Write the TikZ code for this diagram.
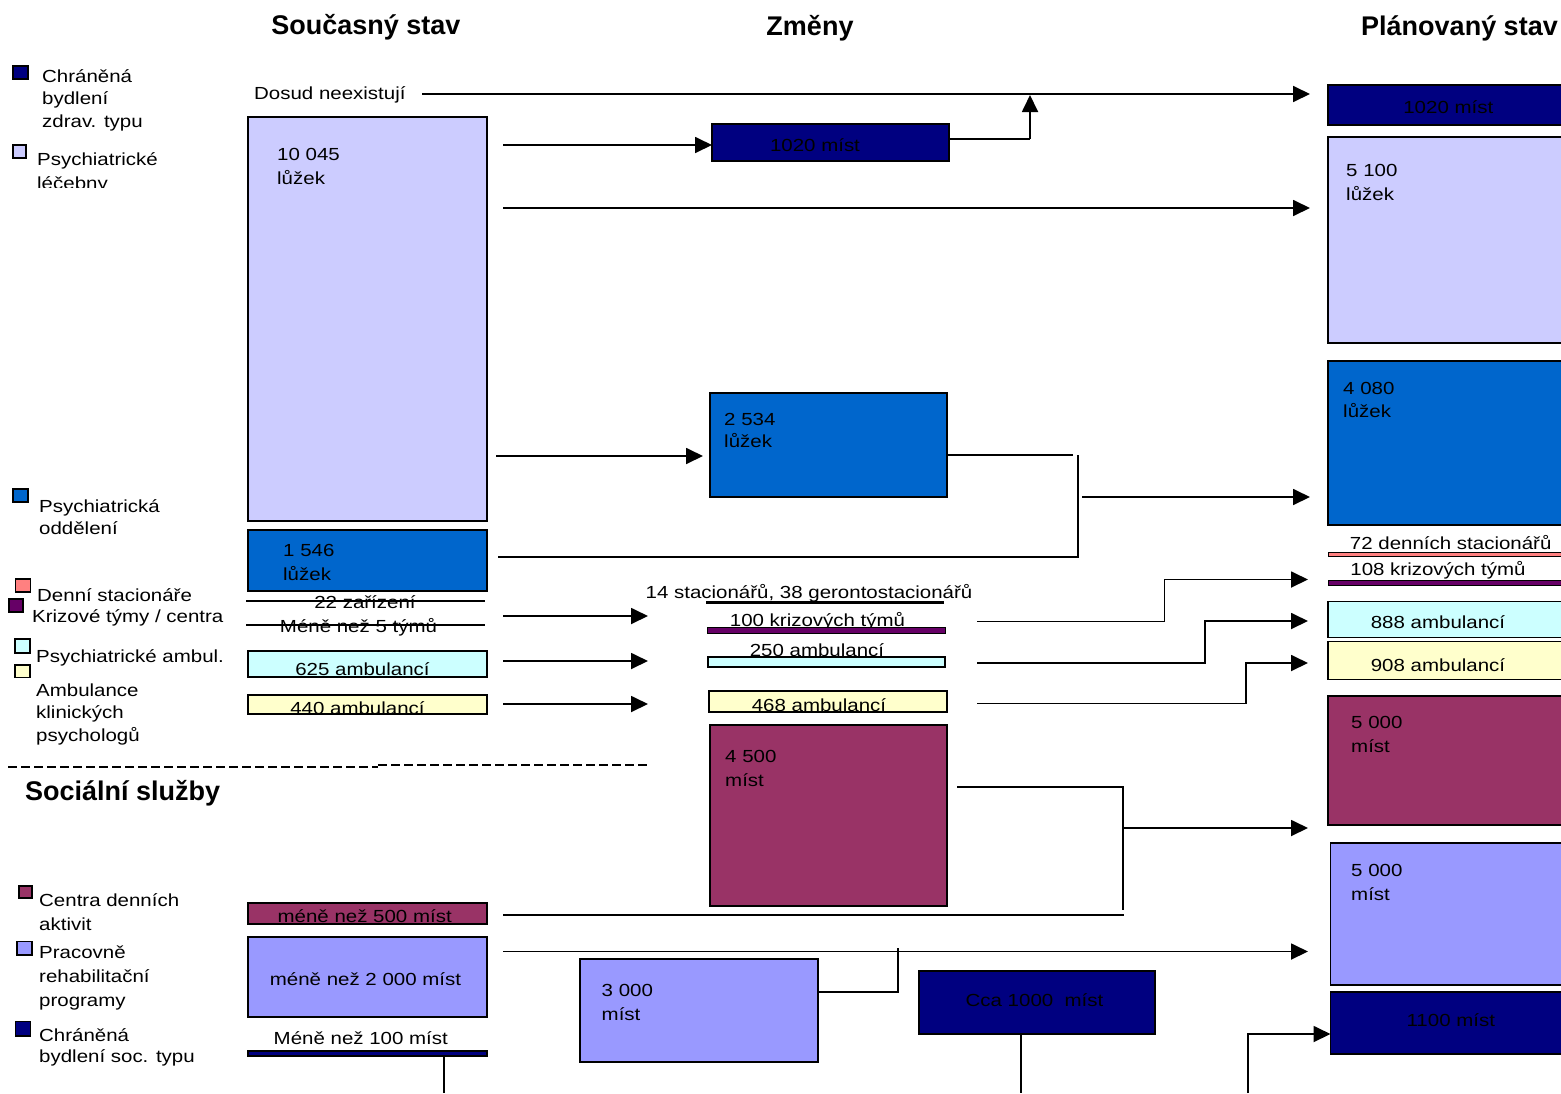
\documentclass[tikz,border=0pt]{standalone}
\usepackage{fontspec}
\setmainfont{Liberation Sans}[FakeStretch=1.17]
\newfontfamily\hdfont{Liberation Sans}
\usetikzlibrary{arrows.meta}
\definecolor{navy}{HTML}{000080}
\definecolor{lav}{HTML}{CCCCFF}
\definecolor{blu}{HTML}{0066CC}
\definecolor{salm}{HTML}{FF8080}
\definecolor{purp}{HTML}{660066}
\definecolor{cyn}{HTML}{CCFFFF}
\definecolor{yel}{HTML}{FFFFCC}
\definecolor{maro}{HTML}{993366}
\definecolor{peri}{HTML}{9999FF}
\tikzset{
  bx/.style={draw=black, line width=1.4pt, inner sep=0pt, outer sep=0pt, anchor=north west},
  sq/.style={draw=black, line width=1.2pt, inner sep=0pt, outer sep=0pt, anchor=north west},
  tx/.style={inner sep=0pt, anchor=base west, font=\fontsize{17.5}{21}\selectfont},
  tc/.style={inner sep=0pt, anchor=base, font=\fontsize{17.5}{21}\selectfont},
  hd/.style={inner sep=0pt, font=\hdfont\bfseries\fontsize{27}{30}\selectfont},
  ln/.style={line width=1.8pt},
  thin ln/.style={line width=1.4pt},
  ar/.style={line width=1.8pt, -{Triangle[length=17pt,width=16pt]}},
}
\newcommand\tl[4]{\node[tx] (#1) at (#2,#3) {#4};}
\newcommand\tcn[4]{\node[tc] (#1) at (#2,#3) {#4};}
\begin{document}
\begin{tikzpicture}[x=1pt,y=-1pt]
\useasboundingbox (0,0) rectangle (1561,1093);
\clip (0,0) rectangle (1561,1093);
\fill[white] (0,0) rectangle (1561,1093);

% headers
\node[hd, anchor=base] (h1) at (366,34) {Současný stav};
\node[hd, anchor=base] (h2) at (810,35) {Změny};
\node[hd, anchor=base west] (h3) at (1361,35) {Plánovaný stav};
\node[hd, anchor=base west] (h4) at (25,800) {Sociální služby};

% legend squares
\node[sq, fill=navy, minimum width=15pt, minimum height=13pt] (s1) at (13,66) {};
\node[sq, fill=lav, minimum width=13pt, minimum height=13pt] (s2) at (13,145) {};
\node[sq, fill=blu, minimum width=15pt, minimum height=13pt] (s3) at (13,489) {};
\node[sq, fill=salm, minimum width=15pt, minimum height=13pt] (s4) at (15.5,579) {};
\node[sq, fill=purp, minimum width=14pt, minimum height=13pt] (s5) at (9,599) {};
\node[sq, fill=cyn, minimum width=15pt, minimum height=14pt] (s6) at (15,639) {};
\node[sq, fill=yel, minimum width=15pt, minimum height=12.5pt] (s7) at (15,665) {};
\node[sq, fill=maro, minimum width=13pt, minimum height=12pt] (s8) at (19,886) {};
\node[sq, fill=peri, minimum width=15pt, minimum height=13.5pt] (s9) at (17,941.5) {};
\node[sq, fill=navy, minimum width=15pt, minimum height=14.5pt] (s10) at (15.5,1021.5) {};

% legend texts
\tl{g1a}{42}{82}{Chráněná}
\tl{g1b}{42}{104.5}{bydlení}
\tl{g1c}{42}{127}{zdrav. typu}
\tl{g2a}{37}{165}{Psychiatrické}
\begin{scope}
\clip (0,170) rectangle (240,187.5);
\tl{g2b}{37}{189}{léčebny}
\end{scope}
\tl{g3a}{39}{512}{Psychiatrická}
\tl{g3b}{39}{534}{oddělení}
\tl{g4}{37}{601.5}{Denní stacionáře}
\tl{g5}{32}{622}{Krizové týmy / centra}
\tl{g6}{36}{662.5}{Psychiatrické ambul.}
\tl{g7a}{36}{696.5}{Ambulance}
\tl{g7b}{36}{718.5}{klinických}
\tl{g7c}{36}{741}{psychologů}
\tl{g8a}{39}{906.5}{Centra denních}
\tl{g8b}{39}{930}{aktivit}
\tl{g9a}{39}{958}{Pracovně}
\tl{g9b}{39}{982.5}{rehabilitační}
\tl{g9c}{39}{1006.5}{programy}
\tl{g10a}{39}{1041.5}{Chráněná}
\tl{g10b}{39}{1062}{bydlení soc. typu}

% dashed separator
\coordinate (d1) at (8,767);
\coordinate (d2) at (378,767);
\coordinate (d3) at (378,765);
\coordinate (d4) at (650,765);
\draw[line width=1.3pt, dash pattern=on 9pt off 4pt] (d1) -- (d2);
\draw[line width=1.3pt, dash pattern=on 9pt off 4pt] (d3) -- (d4);

% left column
\tl{dosud}{254}{99}{Dosud neexistují}
\node[bx, fill=lav, minimum width=239pt, minimum height=404pt] (L1) at (248,117) {};
\tl{L1a}{277}{160}{10 045}
\tl{L1b}{277}{184}{lůžek}
\node[bx, fill=blu, minimum width=239pt, minimum height=61pt] (L2) at (248,530) {};
\tl{L2a}{283}{556}{1 546}
\tl{L2b}{283}{580}{lůžek}
\tcn{Lz}{365}{608}{22 zařízení}
\tcn{Lt}{358.5}{632.5}{Méně než 5 týmů}
\coordinate (lz1) at (246,601); \coordinate (lz2) at (485,601);
\coordinate (lt1) at (246,625); \coordinate (lt2) at (485,625);
\draw[thin ln] (lz1) -- (lz2);
\draw[thin ln] (lt1) -- (lt2);
\node[bx, fill=cyn, minimum width=239pt, minimum height=26pt] (L3) at (248,651) {};
\tcn{L3a}{362.5}{675}{625 ambulancí}
\node[bx, fill=yel, minimum width=239pt, minimum height=19pt] (L4) at (248,695) {};
\tcn{L4a}{357.5}{714}{440 ambulancí}
\node[bx, fill=maro, minimum width=239pt, minimum height=21pt] (L5) at (248,903) {};
\tcn{L5a}{364.7}{922}{méně než 500 míst}
\node[bx, fill=peri, minimum width=239pt, minimum height=80pt] (L6) at (248,937) {};
\tcn{L6a}{365.5}{985}{méně než 2 000 míst}
\tcn{L7a}{360.8}{1044}{Méně než 100 míst}
\node[bx, fill=navy, minimum width=239pt, minimum height=5pt] (L7) at (248,1051) {};

% middle column
\node[bx, fill=navy, minimum width=237pt, minimum height=37pt] (M1) at (712,124) {};
\tcn{M1a}{815}{151.5}{1020 míst}
\node[bx, fill=blu, minimum width=237pt, minimum height=104pt] (M2) at (710,393) {};
\tl{M2a}{724}{425}{2 534}
\tl{M2b}{724}{447}{lůžek}
\tcn{M3a}{809}{598}{14 stacionářů, 38 gerontostacionářů}
\node[bx, fill=black, line width=0.4pt, minimum width=237pt, minimum height=2.5pt] (M3) at (706,601) {};
\tcn{M4a}{817.5}{626}{100 krizových týmů}
\node[bx, fill=purp, line width=1pt, minimum width=238pt, minimum height=6pt] (M4) at (707,627) {};
\tcn{M5a}{817}{656}{250 ambulancí}
\node[bx, fill=cyn, minimum width=237pt, minimum height=10pt] (M5) at (708,657) {};
\node[bx, fill=yel, minimum width=238pt, minimum height=21pt] (M6) at (709,691) {};
\tcn{M6a}{819}{711}{468 ambulancí}
\node[bx, fill=maro, minimum width=237pt, minimum height=181pt] (M7) at (710,725) {};
\tl{M7a}{725}{762}{4 500}
\tl{M7b}{725}{786}{míst}
\node[bx, fill=peri, minimum width=238pt, minimum height=103pt] (M8) at (580,959) {};
\tl{M8a}{601.5}{996.5}{3 000}
\tl{M8b}{601.5}{1020}{míst}
\node[bx, fill=navy, minimum width=236pt, minimum height=63pt] (M9) at (919,971) {};
\tcn{M9a}{1034.5}{1006.5}{Cca 1000\ \ míst}

% right column
\node[bx, fill=navy, minimum width=250pt, minimum height=40pt] (R1) at (1328,85) {};
\tcn{R1a}{1448.3}{113}{1020 míst}
\node[bx, fill=lav, minimum width=250pt, minimum height=206pt] (R2) at (1328,137) {};
\tl{R2a}{1346}{176.5}{5 100}
\tl{R2b}{1346}{200}{lůžek}
\node[bx, fill=blu, minimum width=250pt, minimum height=164pt] (R3) at (1328,361) {};
\tl{R3a}{1343}{394}{4 080}
\tl{R3b}{1343}{417}{lůžek}
\tcn{R4a}{1450.7}{549}{72 denních stacionářů}
\node[bx, fill=salm, line width=0.8pt, minimum width=250pt, minimum height=3.5pt] (R4) at (1328,552.5) {};
\tcn{R5a}{1438}{575}{108 krizových týmů}
\node[bx, fill=purp, line width=1pt, minimum width=250pt, minimum height=5pt] (R5) at (1328,580) {};
\node[bx, fill=cyn, minimum width=250pt, minimum height=36pt] (R6) at (1328,601.5) {};
\tcn{R6a}{1438}{628}{888 ambulancí}
\node[bx, fill=yel, minimum width=250pt, minimum height=38pt] (R7) at (1328,641.5) {};
\tcn{R7a}{1438}{671.5}{908 ambulancí}
\node[bx, fill=maro, minimum width=250pt, minimum height=129pt] (R8) at (1328,696) {};
\tl{R8a}{1351}{728}{5 000}
\tl{R8b}{1351}{752}{míst}
\node[bx, fill=peri, minimum width=250pt, minimum height=142pt] (R9) at (1330.5,843) {};
\tl{R9a}{1351}{876}{5 000}
\tl{R9b}{1351}{900}{míst}
\node[bx, fill=navy, minimum width=250pt, minimum height=62pt] (R10) at (1330.5,992) {};
\tcn{R10a}{1450.8}{1026.5}{1100 míst}

% connector coordinates
\coordinate (a1s) at (422,94);   \coordinate (a1e) at (1310,94);
\coordinate (a2s) at (503,145);
\coordinate (j1)  at (1030,139); \coordinate (j1t) at (1030,95);
\coordinate (a3s) at (503,208);  \coordinate (a3e) at (1310,208);
\coordinate (a4s) at (496,456);  \coordinate (a4e) at (703,456);
\coordinate (b1)  at (1073,455);
\coordinate (b2)  at (1078,455); \coordinate (b3) at (1078,558);
\coordinate (b4)  at (498,557);  \coordinate (b5) at (1078,557);
\coordinate (b6)  at (1082,497); \coordinate (b7) at (1310,497);
\coordinate (c1s) at (503,616);  \coordinate (c1e) at (648,616);
\coordinate (c2s) at (503,661);  \coordinate (c2e) at (648,661);
\coordinate (c3s) at (503,704);  \coordinate (c3e) at (648,704);
\coordinate (e1)  at (977,621.5);  \coordinate (e1a) at (1164.5,621.5); \coordinate (e1b) at (1164.5,579.5); \coordinate (e1e) at (1308,579.5);
\coordinate (e2)  at (977,663);    \coordinate (e2a) at (1205,663);     \coordinate (e2b) at (1205,621);     \coordinate (e2e) at (1308,621);
\coordinate (e3)  at (977,703.5);  \coordinate (e3a) at (1246,703.5);   \coordinate (e3b) at (1246,663);     \coordinate (e3e) at (1308,663);
\coordinate (f1)  at (957,787);  \coordinate (f2) at (1122.7,787); \coordinate (f3) at (1122.7,910);
\coordinate (f4)  at (503,915);  \coordinate (f5) at (1123.5,915);
\coordinate (f6)  at (1123,828); \coordinate (f7) at (1308,828);
\coordinate (g1)  at (503,951.5); \coordinate (g2) at (1308,951.5);
\coordinate (k1)  at (898,992);  \coordinate (k2) at (898,948);
\coordinate (m1)  at (1021,1093);
\coordinate (n1)  at (1248,1093); \coordinate (n2) at (1248,1034);
\coordinate (p1)  at (444.3,1093);

% connectors
\draw[ar] (a1s) -- (a1e);
\draw[ar] (a2s) -- (a2s -| M1.west);
\draw[ln] (M1.east |- j1) -- (j1);
\draw[ar] (j1) -- (j1t);
\draw[ar] (a3s) -- (a3e);
\draw[ar] (a4s) -- (a4e);
\draw[ln] (M2.east |- b1) -- (b1);
\draw[ln] (b2) -- (b3);
\draw[ln] (b4) -- (b5);
\draw[ar] (b6) -- (b7);
\draw[ar] (c1s) -- (c1e);
\draw[ar] (c2s) -- (c2e);
\draw[ar] (c3s) -- (c3e);
\draw[ar] (e1) -- (e1a) -- (e1b) -- (e1e);
\draw[ar] (e2) -- (e2a) -- (e2b) -- (e2e);
\draw[ar] (e3) -- (e3a) -- (e3b) -- (e3e);
\draw[ln] (f1) -- (f2) -- (f3);
\draw[ln] (f4) -- (f5);
\draw[ar] (f6) -- (f7);
\draw[ar] (g1) -- (g2);
\draw[ln] (M8.east |- k1) -- (k1) -- (k2);
\draw[ln] (M9.south -| m1) -- (m1);
\draw[ar] (n1) -- (n2) -- (n2 -| R10.west);
\draw[ln] (L7.south -| p1) -- (p1);
\end{tikzpicture}
\end{document}
